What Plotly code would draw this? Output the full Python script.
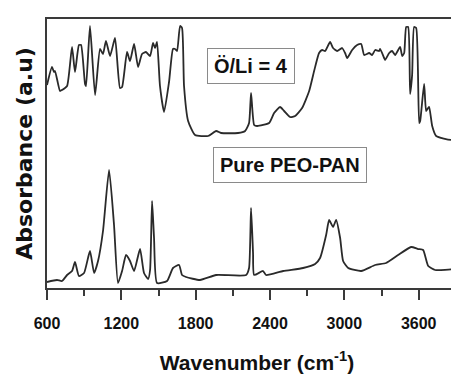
import plotly.graph_objects as go

# Wavenumber (cm-1) and absorbance (a.u., arbitrary offset units)
wn_li = [600, 640, 657, 665, 705, 721, 762, 802, 826, 858, 875, 907, 915, 947, 988, 1028, 1052, 1076,
         1109, 1149, 1189, 1206, 1246, 1270, 1303, 1335, 1367, 1399, 1432, 1456, 1472, 1488, 1512, 1545,
         1585, 1617, 1634, 1650, 1674, 1690, 1706, 1739, 1795, 1900, 1965, 2005, 2142, 2199, 2231, 2247,
         2272, 2296, 2393, 2433, 2481, 2514, 2562, 2603, 2659, 2716, 2756, 2796, 2821, 2845, 2885, 2909,
         2942, 2982, 3006, 3023, 3063, 3103, 3136, 3160, 3200, 3224, 3249, 3281, 3289, 3321, 3329, 3362,
         3386, 3410, 3450, 3467, 3483, 3499, 3515, 3531, 3547, 3563, 3580, 3604, 3612, 3644, 3660, 3676,
         3685, 3709, 3741, 3870, 3990]
abs_li = [203, 221, 216, 217, 197, 198, 202, 241, 216, 243, 243, 204, 202, 262, 193, 239, 234, 247,
          232, 250, 200, 201, 236, 227, 244, 221, 234, 236, 232, 245, 240, 246, 202, 176,
          206, 239, 239, 237, 262, 260, 202, 167, 153, 152, 157, 155, 155, 157, 165, 195,
          163, 162, 165, 175, 181, 177, 171, 172, 180, 197, 217, 235, 238, 237, 246, 240,
          237, 240, 235, 230, 238, 243, 244, 233, 235, 233, 238, 237, 239, 230, 228, 235,
          237, 233, 241, 232, 235, 261, 261, 194, 213, 261, 260, 165, 167, 204, 177, 180,
          181, 162, 152, 148, 152]

wn_pure = [600, 681, 721, 762, 802, 826, 858, 899, 947, 980, 1012, 1052, 1101, 1141, 1173, 1206, 1238,
           1270, 1303, 1351, 1383, 1416, 1432, 1448, 1464, 1488, 1569, 1617, 1666, 1690, 1722, 1835,
           1965, 2207, 2231, 2247, 2263, 2272, 2344, 2368, 2506, 2667, 2764, 2804, 2853, 2877, 2909,
           2934, 2966, 2990, 3031, 3136, 3249, 3337, 3434, 3539, 3596, 3636, 3677, 3733, 3895, 3983]
abs_pure = [6, 8, 7, 13, 17, 26, 12, 15, 37, 15, 27, 57, 118, 63, 5, 17, 33,
            27, 17, 39, 15, 9, 18, 87, 50, 5, 7, 20, 23, 13, 11, 8,
            13, 13, 20, 80, 35, 13, 17, 13, 17, 20, 24, 30, 53, 68, 61,
            68, 50, 27, 20, 17, 23, 25, 33, 41, 39, 38, 22, 18, 19, 22]

x_ticks = [600, 1200, 1800, 2400, 3000, 3600]
labels = ["Ö/Li = 4", "Pure PEO-PAN"]

FONT = "Liberation Sans, Arial, sans-serif"
LINE = "#2a2a2a"
AX = "#3a3a3a"

fig = go.Figure()
for xs, ys, nm in [(wn_li, abs_li, labels[0]), (wn_pure, abs_pure, labels[1])]:
    fig.add_trace(go.Scatter(x=xs, y=ys, mode="lines",
                             line=dict(color=LINE, width=1.8, shape="spline", smoothing=0.5),
                             name=nm, showlegend=False))

fig.add_annotation(x=2245, y=222, xref="x", yref="y", text=labels[0], showarrow=False,
                   font=dict(family=FONT, size=20, color="#111", weight="bold"),
                   bordercolor="#8a8a8a", borderwidth=1, borderpad=6, bgcolor="white")
fig.add_annotation(x=2562, y=123, xref="x", yref="y", text=labels[1], showarrow=False,
                   font=dict(family=FONT, size=20, color="#111", weight="bold"),
                   bordercolor="#8a8a8a", borderwidth=1, borderpad=6, bgcolor="white")

fig.update_layout(
    width=459, height=375,
    margin=dict(l=39, r=0, t=11, b=95, autoexpand=False),
    paper_bgcolor="white", plot_bgcolor="white",
    xaxis=dict(
        range=[600, 3990], tickvals=x_ticks, ticktext=[str(v) for v in x_ticks],
        ticks="outside", ticklen=10, tickwidth=2, tickcolor=AX, ticklabelstandoff=10,
        showline=True, linewidth=2, linecolor=AX, mirror=True,
        showgrid=False, zeroline=False, automargin=False,
        minor=dict(tickvals=[900, 1500, 2100, 2700, 3300, 3900], ticks="outside",
                   ticklen=6, tickwidth=2, tickcolor=AX),
        tickfont=dict(family=FONT, size=16, color="#111", weight="bold"),
        title=dict(text="Wavenumber (cm<sup>-1</sup>)", standoff=24,
                   font=dict(family=FONT, size=21, color="#111", weight="bold")),
    ),
    yaxis=dict(
        range=[0, 269], showticklabels=False, ticks="",
        showline=True, linewidth=2, linecolor=AX,
        showgrid=False, zeroline=False, automargin=False,
        title=dict(text="Absorbance (a.u)", standoff=6,
                   font=dict(family="DejaVu Sans, Arial, sans-serif", size=22, color="#111",
                             weight="bold")),
    ),
)

fig.write_html("out.html")
